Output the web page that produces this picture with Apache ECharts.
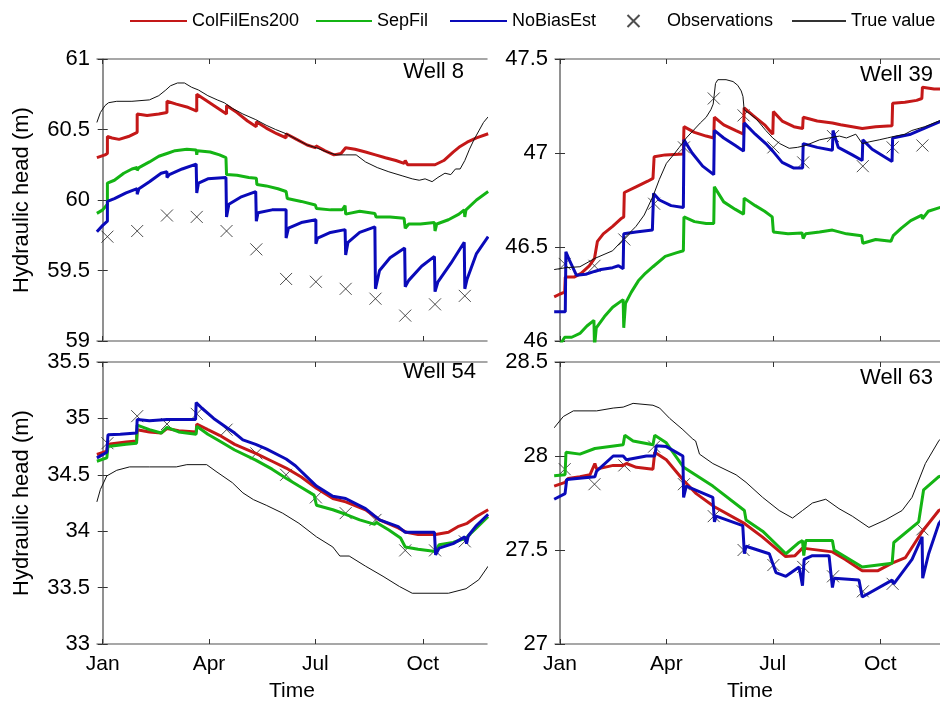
<!DOCTYPE html>
<html>
<head>
<meta charset="utf-8">
<script src="https://cdn.jsdelivr.net/npm/echarts@6/dist/echarts.min.js"></script>
<style>html,body{margin:0;padding:0;background:#fff}#c{width:940px;height:703px}</style>
</head>
<body>
<div id="c"></div>
<script>
// ---- ticks / labels ----
const monthTicks = [0, 91, 182, 274];
const monthLabels = ['Jan', 'Apr', 'Jul', 'Oct'];
const wellNames = ['Well 8', 'Well 39', 'Well 54', 'Well 63'];
const yRanges = [[59, 61], [46, 47.5], [33, 35.5], [27, 28.5]];
const seriesNames = ['ColFilEns200', 'SepFil', 'NoBiasEst', 'Observations', 'True value'];

// ---- observation days (day of year) ----
const obsDays = [4, 29.5, 55, 80.5, 106, 131.5, 157, 182.5, 208, 233.5, 259, 284.5, 310];

// ---- Well 8 ----
const w8Obs = [59.74, 59.78, 59.89, 59.88, 59.78, 59.65, 59.44, 59.42, 59.37, 59.30, 59.18, 59.26, 59.32];
const w8ColFil = [[-5,60.30],[2,60.32],[4,60.33],[4,60.45],[8,60.44],[14,60.43],[22,60.45],[29.5,60.48],[29.5,60.61],[38,60.60],[48,60.61],[55,60.62],[55,60.70],[63,60.68],[72,60.66],[80.5,60.63],[80.5,60.75],[88,60.71],[97,60.66],[106,60.61],[106,60.67],[115,60.62],[124,60.56],[131.5,60.52],[131.5,60.555],[140,60.51],[149,60.47],[157,60.44],[157,60.47],[166,60.43],[175,60.39],[182.5,60.37],[182.5,60.385],[190,60.35],[198,60.32],[204,60.33],[208,60.37],[216,60.36],[225,60.34],[233.5,60.32],[242,60.30],[251,60.28],[258,60.26],[259,60.28],[261,60.25],[272,60.25],[284.5,60.25],[292,60.28],[300,60.34],[306,60.38],[312,60.41],[320,60.44],[330,60.47]];
const w8SepFil = [[-5,59.905],[0,59.93],[4,59.97],[4,60.12],[10,60.14],[18,60.19],[25,60.22],[29.5,60.23],[29.5,60.21],[31,60.23],[40,60.27],[48,60.31],[55,60.33],[62,60.35],[72,60.36],[80,60.355],[80.5,60.32],[81,60.35],[92,60.34],[100,60.32],[105.5,60.30],[106,60.18],[115,60.175],[125,60.16],[131.5,60.155],[132,60.11],[140,60.10],[150,60.08],[157,60.06],[158,60.01],[170,59.99],[182,59.965],[183,59.94],[195,59.93],[205,59.93],[207.5,59.96],[208,59.90],[220,59.92],[233,59.905],[234,59.88],[246,59.88],[258,59.87],[259,59.80],[262,59.83],[272,59.83],[284,59.84],[284.5,59.78],[286,59.83],[296,59.86],[305,59.90],[309.5,59.93],[310,59.88],[311,59.93],[320,60.00],[330,60.06]];
const w8NoBias = [[-5,59.775],[0,59.82],[4,59.85],[4,59.99],[10,60.01],[20,60.05],[29.5,60.08],[29.5,60.04],[31,60.08],[40,60.13],[50,60.19],[55,60.20],[55,60.16],[57,60.18],[68,60.22],[80,60.255],[80.5,60.05],[82,60.12],[90,60.15],[105.5,60.16],[106,59.88],[108,59.97],[118,60.02],[131,60.06],[131.5,59.85],[133,59.91],[145,59.93],[157,59.93],[157,59.73],[159,59.80],[170,59.84],[182.5,59.86],[182.5,59.69],[184,59.73],[195,59.77],[207.5,59.79],[208,59.61],[210,59.70],[220,59.77],[233,59.81],[233.5,59.37],[237,59.50],[246,59.59],[258.5,59.66],[259,59.385],[262,59.43],[273,59.53],[284,59.60],[284.5,59.35],[287,59.42],[298,59.55],[309.5,59.70],[310,59.37],[312,59.44],[320,59.62],[330,59.74]];
const w8True = [[-5,60.55],[-2,60.62],[2,60.67],[5,60.69],[12,60.70],[25,60.70],[40,60.71],[48,60.74],[54,60.78],[58,60.81],[64,60.83],[70,60.83],[76,60.80],[82,60.78],[90,60.74],[98,60.71],[104,60.69],[111,60.65],[120,60.61],[131,60.57],[140,60.53],[148,60.50],[157,60.47],[166,60.43],[175,60.39],[183,60.37],[192,60.34],[200,60.32],[208,60.32],[217,60.32],[225,60.27],[235,60.23],[245,60.20],[257,60.17],[265,60.15],[271,60.14],[276,60.15],[282,60.13],[287,60.16],[293,60.19],[298,60.18],[302,60.22],[306,60.22],[310,60.28],[314,60.36],[318,60.43],[322,60.49],[326,60.55],[330,60.59]];

// ---- Well 39 ----
const w39Obs = [46.41, 46.40, 46.54, 46.73, 47.03, 47.29, 47.20, 47.03, 46.95, 47.09, 46.93, 47.03, 47.04];
const w39ColFil = [[-5,46.235],[0,46.25],[4,46.26],[4.5,46.34],[12,46.34],[18,46.36],[25,46.40],[29.5,46.44],[32,46.53],[37,46.57],[45,46.61],[52,46.65],[54.5,46.66],[55,46.79],[65,46.82],[75,46.85],[79.5,46.865],[80.5,46.98],[90,46.99],[105.5,46.995],[106,47.14],[115,47.11],[125,47.09],[131.5,47.08],[132,47.19],[140,47.15],[150,47.12],[157,47.10],[157.5,47.24],[165,47.20],[175,47.15],[182,47.10],[182.5,47.22],[190,47.17],[200,47.14],[207.5,47.13],[208,47.19],[220,47.17],[233,47.16],[240,47.15],[250,47.14],[258.5,47.13],[259,47.14],[270,47.14],[284,47.145],[284.5,47.265],[295,47.27],[305,47.28],[309.5,47.29],[310,47.35],[320,47.34],[330,47.34]];
const w39SepFil = [[-5,45.95],[0,45.98],[4,46.02],[10,46.02],[17,46.04],[23,46.08],[29,46.11],[29.5,45.97],[31,46.07],[38,46.13],[45,46.18],[54,46.22],[54.5,46.07],[56,46.20],[61,46.26],[67,46.32],[73,46.36],[79.5,46.395],[90,46.45],[100,46.47],[105.5,46.48],[106,46.66],[115,46.635],[125,46.625],[131.5,46.625],[132,46.82],[140,46.74],[150,46.70],[157,46.675],[157.5,46.76],[167,46.72],[175,46.69],[181.5,46.66],[182.5,46.58],[195,46.57],[207,46.575],[208,46.545],[210,46.57],[222,46.58],[233,46.59],[245,46.57],[258,46.56],[259,46.52],[270,46.54],[283,46.53],[285,46.56],[292,46.60],[300,46.64],[309.5,46.67],[310,46.65],[315,46.69],[330,46.72]];
const w39NoBias = [[-5,46.155],[4.5,46.155],[5,46.475],[8,46.43],[14,46.35],[22,46.355],[29.5,46.37],[35,46.38],[45,46.39],[50,46.40],[54,46.385],[54.5,46.57],[65,46.58],[79,46.59],[80,46.785],[85,46.75],[95,46.72],[105.5,46.71],[106,47.07],[113,47.00],[122,46.93],[131.5,46.885],[132,47.12],[140,47.08],[150,47.04],[157,47.01],[157.5,47.16],[167,47.10],[176,47.05],[182,47.01],[190,46.95],[200,46.92],[207.5,46.92],[208,47.05],[220,47.03],[233,47.015],[233.5,47.12],[238,47.03],[250,46.99],[258.5,46.96],[259,47.07],[267,47.02],[284,46.955],[284.5,47.08],[300,47.10],[315,47.14],[330,47.18]];
const w39True = [[-5,46.38],[5,46.39],[17,46.395],[30,46.44],[45,46.48],[54,46.54],[65,46.61],[72,46.67],[79.5,46.77],[85,46.86],[91,46.945],[97,46.99],[102,47.03],[108,47.08],[114,47.12],[120,47.16],[125,47.19],[129,47.23],[131,47.26],[133,47.37],[135,47.39],[142,47.39],[148,47.38],[152,47.36],[155,47.33],[156.5,47.30],[157.5,47.23],[162,47.21],[168,47.18],[176,47.12],[182,47.08],[188,47.05],[196,47.025],[203,47.03],[210,47.04],[222,47.07],[230,47.08],[239,47.09],[245,47.08],[253,47.10],[258.5,47.05],[265,47.06],[273,47.07],[280,47.08],[287,47.09],[295,47.10],[301,47.12],[312,47.14],[324,47.17],[330,47.18]];

// ---- Well 54 ----
const w54Obs = [34.78, 35.02, 34.95, 35.04, 34.90, 34.69, 34.50, 34.30, 34.16, 34.10, 33.83, 33.83, 33.91];
const w54ColFil = [[-5,34.68],[3.5,34.71],[4.5,34.77],[20,34.79],[29,34.80],[29.5,34.90],[40,34.88],[50,34.87],[55,34.91],[65,34.89],[80,34.88],[80.5,34.95],[90,34.90],[100,34.85],[113,34.77],[131,34.69],[145,34.62],[157,34.56],[170,34.48],[183,34.38],[197,34.29],[208,34.26],[225,34.19],[237,34.10],[253,34.03],[260,33.99],[270,33.97],[285,33.97],[296,33.99],[304,34.04],[312,34.07],[320,34.13],[330,34.19]];
const w54SepFil = [[-5,34.62],[3.5,34.65],[4.5,34.75],[20,34.77],[29,34.78],[29.5,34.94],[40,34.90],[50,34.87],[55,34.92],[65,34.88],[80,34.86],[80.5,34.93],[90,34.86],[100,34.80],[113,34.72],[131,34.63],[145,34.55],[157,34.47],[168,34.40],[181,34.32],[183,34.23],[197,34.19],[208,34.15],[220,34.10],[233,34.06],[234,34.08],[245,34.01],[255,33.94],[259,33.86],[270,33.84],[285,33.82],[288,33.88],[300,33.90],[311,33.94],[320,34.03],[330,34.13]];
const w54NoBias = [[-5,34.65],[3.5,34.70],[4.5,34.855],[15,34.86],[29,34.87],[29.5,34.99],[40,34.98],[55,34.99],[70,34.99],[79.5,34.99],[80,35.14],[85,35.09],[95,35.00],[106,34.92],[113,34.87],[120,34.81],[131,34.77],[140,34.73],[157,34.64],[158,34.64],[165,34.58],[175,34.48],[183,34.40],[197,34.31],[208,34.29],[225,34.20],[237,34.10],[253,34.04],[259,33.99],[284,33.99],[285,33.79],[288,33.85],[300,33.89],[310,33.95],[311.5,33.89],[313,33.96],[320,34.05],[330,34.15]];
const w54True = [[-5,34.26],[-2,34.37],[3.5,34.49],[12,34.54],[23,34.57],[40,34.57],[63,34.57],[72,34.59],[89,34.59],[97,34.53],[111,34.43],[120,34.34],[129,34.28],[140,34.23],[154,34.16],[168,34.07],[183,33.95],[197,33.86],[203,33.78],[211,33.78],[225,33.69],[240,33.60],[254,33.51],[265,33.45],[296,33.45],[311,33.49],[322,33.57],[330,33.69]];

// ---- Well 63 ----
const w63Obs = [27.93, 27.85, 27.95, 28.05, 27.85, 27.68, 27.50, 27.42, 27.41, 27.36, 27.28, 27.32, 27.61];
const w63ColFil = [[-5,27.84],[4.3,27.86],[7,27.88],[17,27.89],[25.6,27.90],[29.8,27.96],[31.3,27.93],[45.5,27.95],[54,27.95],[56.8,27.96],[65.3,27.94],[79.5,27.93],[81,28.02],[90.9,27.98],[105.7,27.87],[116.5,27.80],[132,27.73],[158,27.64],[173,27.57],[193,27.465],[201,27.47],[207.4,27.51],[233,27.49],[244,27.45],[258.5,27.39],[272,27.39],[284,27.43],[295.5,27.46],[310,27.60],[324,27.71],[330,27.73]];
const w63SepFil = [[-5,27.895],[4.3,27.90],[5.1,28.02],[17,28.01],[29.8,28.04],[54,28.06],[55.4,28.11],[62.5,28.08],[79.5,28.06],[81,28.11],[90.9,28.07],[105.7,27.94],[130.7,27.84],[157.7,27.71],[159.1,27.66],[173.3,27.60],[193.2,27.48],[204.5,27.54],[207.4,27.55],[208.5,27.47],[210.2,27.55],[233,27.55],[234.4,27.50],[258.5,27.41],[284.1,27.43],[285.5,27.54],[306.8,27.65],[311,27.82],[324,27.89],[330,27.90]];
const w63NoBias = [[-5,27.77],[4.3,27.80],[5.7,27.875],[29.8,27.89],[31.3,27.92],[45.5,28.00],[54,28.00],[56.8,27.98],[73.9,28.00],[81,28.00],[82.4,28.055],[90.9,28.05],[105.1,28.00],[105.7,27.78],[108,27.84],[130.7,27.78],[132.1,27.65],[133.5,27.68],[156.3,27.63],[157.7,27.48],[159.1,27.52],[179,27.48],[184.7,27.38],[193.2,27.36],[204.5,27.41],[207.4,27.31],[208.8,27.45],[215.9,27.47],[230.1,27.47],[233,27.30],[234.4,27.35],[255.7,27.34],[258.5,27.25],[284.1,27.34],[285.5,27.32],[301.1,27.45],[309.7,27.57],[310.2,27.35],[315.3,27.48],[324,27.64],[330,27.69]];
const w63True = [[-5,28.15],[2.8,28.21],[11.4,28.24],[31.3,28.24],[45.5,28.255],[54,28.26],[62.5,28.28],[79.5,28.27],[85.2,28.255],[93.8,28.20],[105.1,28.14],[113.6,28.09],[116,28.08],[119.3,28.01],[130.7,27.96],[150.6,27.90],[159.1,27.86],[173.3,27.78],[187.5,27.71],[198.9,27.67],[207.4,27.71],[215.9,27.75],[227.3,27.77],[238.6,27.72],[250,27.68],[264.2,27.62],[278.4,27.66],[292.6,27.71],[301.1,27.78],[312.5,27.96],[323.9,28.08],[330,28.12]];

const wells = [
  {col: w8ColFil, sep: w8SepFil, nb: w8NoBias, obs: w8Obs, tru: w8True},
  {col: w39ColFil, sep: w39SepFil, nb: w39NoBias, obs: w39Obs, tru: w39True},
  {col: w54ColFil, sep: w54SepFil, nb: w54NoBias, obs: w54Obs, tru: w54True},
  {col: w63ColFil, sep: w63SepFil, nb: w63NoBias, obs: w63Obs, tru: w63True}
];

// ---- layout / style ----
const FONT = 'Liberation Sans, Arial, sans-serif';
const colors = {col: '#c41818', sep: '#14b414', nb: '#0a0ab9', obs: '#222222', tru: '#111111'};
const grids = [
  {left: 97, top: 59, width: 390, height: 282, xmin: -4.9, xmax: 329},
  {left: 555, top: 59, width: 390, height: 282, xmin: -4.3, xmax: 329.3},
  {left: 97, top: 362, width: 390, height: 282, xmin: -4.9, xmax: 329},
  {left: 555, top: 362, width: 390, height: 282, xmin: -4.3, xmax: 329.3}
];
const frame = {show: true, lineStyle: {color: '#8a8a8a', width: 1.5}};
const tick = (show) => ({show: show, inside: true, length: 5, customValues: monthTicks, lineStyle: {color: '#333', width: 1}});
const crossPath = 'path://M0,0L10,10M10,0L0,10';

const xAxis = [], yAxis = [], series = [];
grids.forEach((g, i) => {
  const bottomRow = i >= 2;
  xAxis.push({
    type: 'value', gridIndex: i, min: g.xmin, max: g.xmax, position: 'bottom',
    axisLine: frame, axisTick: tick(true), splitLine: {show: false},
    axisLabel: {show: bottomRow, customValues: monthTicks, margin: 10, fontSize: 21, color: '#000', fontFamily: FONT,
      formatter: (v) => { const k = monthTicks.indexOf(v); return k >= 0 ? monthLabels[k] : ''; }},
    name: bottomRow ? 'Time' : '', nameLocation: 'middle', nameGap: 37,
    nameTextStyle: {fontSize: 21, color: '#000', fontFamily: FONT}
  });
  xAxis.push({
    type: 'value', gridIndex: i, min: g.xmin, max: g.xmax, position: 'top',
    axisLine: frame, axisTick: tick(true), splitLine: {show: false}, axisLabel: {show: false}
  });
  const yr = yRanges[i];
  yAxis.push({
    type: 'value', gridIndex: i, min: yr[0], max: yr[1], interval: 0.5, position: 'left',
    axisLine: frame, axisTick: {show: true, inside: true, length: 5, lineStyle: {color: '#333', width: 1}},
    splitLine: {show: false},
    axisLabel: {margin: 7, fontSize: 22, color: '#000', fontFamily: FONT},
    name: (i % 2 === 0) ? 'Hydraulic head (m)' : '', nameLocation: 'middle', nameGap: 64,
    nameTextStyle: {fontSize: 22, color: '#000', fontFamily: FONT}
  });
  yAxis.push({
    type: 'value', gridIndex: i, min: yr[0], max: yr[1], interval: 0.5, position: 'right',
    axisLine: frame, axisTick: {show: true, inside: true, length: 5, lineStyle: {color: '#333', width: 1}},
    splitLine: {show: false}, axisLabel: {show: false}
  });
  const w = wells[i];
  const common = {xAxisIndex: 2 * i, yAxisIndex: 2 * i, type: 'line', symbol: 'none', showSymbol: false, animation: false, clip: true};
  series.push(Object.assign({}, common, {name: seriesNames[0], data: w.col, lineStyle: {color: colors.col, width: 3}, itemStyle: {color: colors.col}}));
  series.push(Object.assign({}, common, {name: seriesNames[1], data: w.sep, lineStyle: {color: colors.sep, width: 3}, itemStyle: {color: colors.sep}}));
  series.push(Object.assign({}, common, {name: seriesNames[2], data: w.nb, lineStyle: {color: colors.nb, width: 3}, itemStyle: {color: colors.nb}}));
  series.push({
    name: seriesNames[3], type: 'scatter', xAxisIndex: 2 * i, yAxisIndex: 2 * i, animation: false,
    symbol: crossPath, symbolSize: 12, symbolKeepAspect: true,
    itemStyle: {color: 'none', borderColor: colors.obs, borderWidth: 1},
    data: obsDays.map((d, k) => [d, w.obs[k]])
  });
  series.push(Object.assign({}, common, {name: seriesNames[4], data: w.tru, lineStyle: {color: colors.tru, width: 1}, itemStyle: {color: colors.tru}}));
});

const legendBase = {orient: 'horizontal', top: 12, padding: 0, itemGap: 0,
  textStyle: {fontSize: 18, color: '#000', fontFamily: FONT}, selectedMode: false};
// [left, itemWidth, itemHeight, icon]
const legendPos = [[130, 57, 2, 'rect'], [316, 56, 2, 'rect'], [450, 57, 2, 'rect'], [625, 57, 12, null], [792, 54, 2, 'rect']];
const legend = seriesNames.map((n, k) => {
  const p = legendPos[k];
  const item = p[3] ? {name: n, icon: p[3]} : {name: n};
  const lg = Object.assign({}, legendBase, {data: [item], left: p[0], itemWidth: p[1], itemHeight: p[2]});
  if (k === 4) lg.itemStyle = {color: '#333'};
  return lg;
});

const wellPos = [[464, 72], [933, 75], [476, 372], [933, 378]];
const graphic = wellNames.map((t, k) => ({
  type: 'text', x: wellPos[k][0], y: wellPos[k][1], silent: true,
  style: {text: t, fontSize: 22, fontFamily: FONT, fill: '#000', textAlign: 'right', textVerticalAlign: 'middle'}
}));

const chart = echarts.init(document.getElementById('c'), null, {renderer: 'canvas'});
chart.setOption({
  backgroundColor: '#fff',
  animation: false,
  grid: grids.map(g => ({left: g.left, top: g.top, width: g.width, height: g.height, containLabel: false, outerBoundsMode: 'none'})),
  xAxis: xAxis, yAxis: yAxis, series: series, legend: legend, graphic: graphic
});
</script>
</body>
</html>
